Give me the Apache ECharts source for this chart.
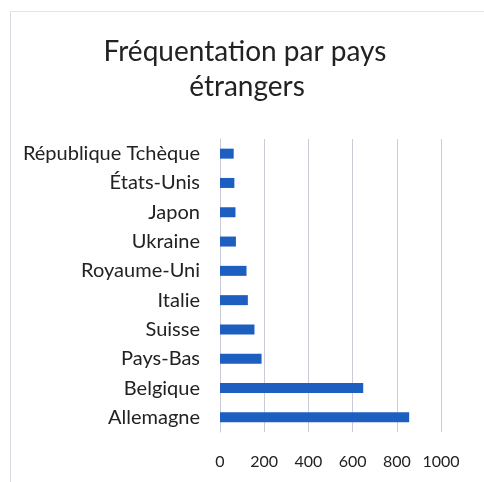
<!DOCTYPE html>
<html>
<head>
<meta charset="utf-8">
<script src="https://cdn.jsdelivr.net/npm/echarts@6/dist/echarts.min.js"></script>
<style>
  body { margin: 0; background: #fff; }
  #chart { width: 484px; height: 482px; }
  #frame {
    position: absolute; left: 10px; top: 11px; width: 480px; height: 480px;
    border-left: 1px solid #d8d8e0; border-top: 1px solid #e4e4ea;
    pointer-events: none;
  }
</style>
</head>
<body>
<div id="chart"></div>
<div id="frame"></div>
<script>
// pays, du haut vers le bas dans le graphique
var pays = ["République Tchèque", "États-Unis", "Japon", "Ukraine", "Royaume-Uni",
  "Italie", "Suisse", "Pays-Bas", "Belgique", "Allemagne"];
var visiteurs = [62, 65, 70, 72, 120, 126, 156, 188, 648, 856];
var ticks = [0, 200, 400, 600, 800, 1000];

var titleFont = {
  fontFamily: "Lato",
  fontSize: 28,
  fontWeight: "normal",
  color: "#222"
};

var chart = echarts.init(document.getElementById("chart"));
chart.setOption({
  animation: false,
  title: [
    { text: "Fréquentation par pays", left: 240, textAlign: "center", top: 33, textStyle: titleFont },
    { text: "étrangers", left: 242, textAlign: "center", top: 68, textStyle: titleFont }
  ],
  grid: { left: 220, right: 43, top: 139, bottom: 50, containLabel: false },
  xAxis: {
    type: "value",
    min: ticks[0],
    max: ticks[ticks.length - 1],
    interval: 200,
    axisLine: { show: false },
    axisTick: { show: false },
    axisLabel: {
      margin: 22,
      fontFamily: "Lato",
      fontSize: 16,
      color: "#222",
      formatter: function (v) { return String(v); }
    },
    splitLine: { lineStyle: { color: "#c9cbd8", width: 1 } }
  },
  yAxis: {
    type: "category",
    data: pays,
    inverse: true,
    axisLine: { show: true, lineStyle: { color: "#c9cbd8" } },
    axisTick: { show: false },
    axisLabel: {
      margin: 20,
      fontFamily: "Lato",
      fontSize: 20,
      color: "#222"
    }
  },
  series: [{
    type: "bar",
    data: visiteurs,
    barWidth: 10,
    itemStyle: { color: "#1c5fc0" }
  }]
});
</script>
</body>
</html>
